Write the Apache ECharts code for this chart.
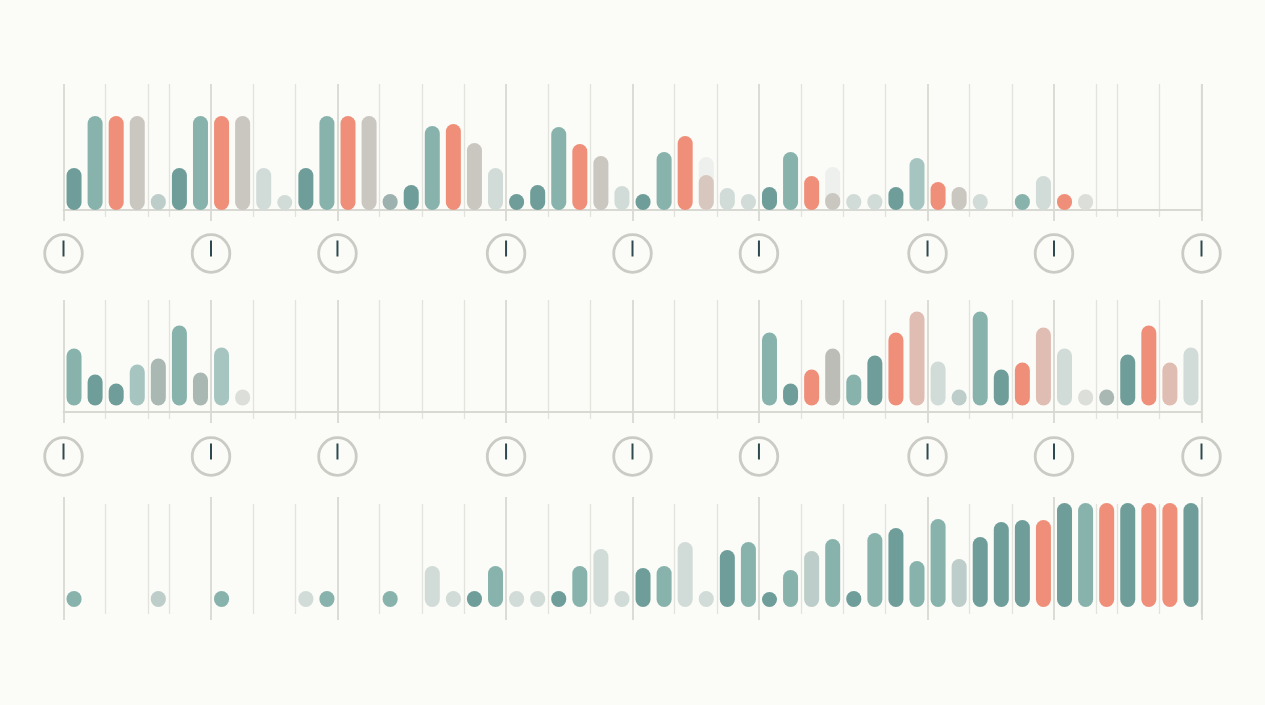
<!DOCTYPE html>
<html>
<head>
<meta charset="utf-8">
<style>html,body{margin:0;padding:0;background:#fbfbf7}#c{width:1265px;height:705px}</style>
<script src="https://cdn.jsdelivr.net/npm/echarts@6/dist/echarts.min.js"></script>
</head>
<body>
<div id="c"></div>
<script>
const slots = Array.from({length: 54}, (_, i) => 'S' + i);
const majorTicks = [0, 7, 13, 21, 27, 33, 41, 47];
const clockTicks = [0, 7, 13, 21, 27, 33, 41, 47, 54];
const minorTicks = [2, 4, 5, 9, 11, 15, 17, 19, 23, 25, 29, 31, 35, 37, 39, 43, 45, 49, 50, 52];

const topValues = [42,94,94,94,16, 42,94,94,94,42, 15,42,94,94,94, 16,25,84,86,67, 42,16,25,83,66, 54,24,16,58,74, 35,22,16,23,58, 34,17,16,16,23, 52,28,23,16,null, 16,34,16,16,null, null,null,null,null];
const topGhost = [null,null,null,null,null, null,null,null,null,null, null,null,null,null,null, null,null,null,null,null, null,null,null,null,null, null,null,null,null,null, 53,null,null,null,null, null,43,null,null,null, null,null,null,null,null, null,null,null,null,null, null,null,null,null];
const topKinds = ['deep','teal','coral','stone','fog', 'deep','teal','coral','stone','mist', 'mist','deep','teal','coral','stone', 'slate','deep','teal','coral','stone', 'mist','deep','deep','teal','coral', 'stone','mist','deep','teal','coral', 'sand','mist','mist','deep','teal', 'coral','stone','mist','mist','deep', 'seafoam','coral','stone','mist','mist', 'teal','mist','coral','pale','pale', 'pale','pale','pale','pale'];

const midValues = [57,31,22,41,47, 80,33,58,16,null, null,null,null,null,null, null,null,null,null,null, null,null,null,null,null, null,null,null,null,null, null,null,null,73,22, 36,57,31,50,73, 94,44,16,94,36, 43,78,57,16,16, 51,80,43,58];
const midKinds = ['teal','deep','deep','seafoam','ash', 'teal','ash','seafoam','pale','pale', 'pale','pale','pale','pale','pale', 'pale','pale','pale','pale','pale', 'pale','pale','pale','pale','pale', 'pale','pale','pale','pale','pale', 'pale','pale','pale','teal','deep', 'coral','pewter','teal','deep','coral', 'blush','mist','fog','teal','deep', 'coral','blush','mist','pale','ash', 'deep','coral','blush','mist'];

const lowValues = [16,null,null,null,16, null,null,16,null,null, null,16,16,null,null, 16,null,41,16,16, 41,16,16,16,41, 58,16,39,41,65, 16,57,65,15,37, 56,68,16,74,79, 46,88,48,70,85, 87,87,104,104,104, 104,104,104,104];
const lowKinds = ['teal','teal','teal','teal','fog', 'teal','teal','teal','teal','teal', 'teal','mist','teal','teal','teal', 'teal','teal','mist','mist','deep', 'teal','mist','mist','deep','teal', 'mist','mist','deep','teal','mist', 'mist','deep','teal','deep','teal', 'fog','teal','deep','teal','deep', 'teal','teal','fog','deep','deep', 'deep','coral','deep','teal','coral', 'deep','coral','coral','deep'];

const palette = {deep:'#6f9e9a', teal:'#88b3ac', coral:'#f08f79', stone:'#cac6c0', mist:'#d1dcd8', fog:'#bdcdca', slate:'#9db1af', blush:'#dfbdb3', ash:'#aab8b4', pale:'#dcdeda', seafoam:'#a6c5c0', sand:'#d8c7bf', pewter:'#bdbdb8', ghost:'#edf0ed'};
const BG = '#fbfbf7', RULE_MINOR = '#e3e3de', RULE_MAJOR = '#d6d6d1', BASE = '#d9d9d4', HAND = '#2e4a4e', RING = '#cbcbc6';
const LEFT = 63.5, WIDTH = 1138;

const grids = [], xAxes = [], yAxes = [], series = [];
function addGrid(top, height, xa, ya) {
  const i = grids.length;
  grids.push({left: LEFT, width: WIDTH, top: top, height: height, containLabel: false});
  xAxes.push(Object.assign({gridIndex: i, axisLabel: {show: false}, axisTick: {show: false}, axisLine: {show: false}, splitLine: {show: false}}, xa));
  yAxes.push(Object.assign({gridIndex: i, type: 'value', show: false, min: 0, max: 1, splitLine: {show: false}}, ya));
  return i;
}
function addRules(top, bottom, ticks, color, width) {
  const set = new Set(ticks);
  addGrid(top, bottom - top, {type: 'category', data: slots, splitLine: {show: true, interval: (idx) => set.has(idx), lineStyle: {color: color, width: width}}}, {});
}
function addBars(top, height, yMin, yMax, values, kinds, baseline, ghost) {
  const i = addGrid(top, height, {
    type: 'category', data: slots,
    axisLine: {show: baseline, onZero: false, lineStyle: {color: BASE, width: 2}}
  }, {min: yMin, max: yMax});
  const common = {type: 'bar', xAxisIndex: i, yAxisIndex: i, barWidth: 15, barGap: '-100%', silent: true};
  if (ghost) series.push(Object.assign({}, common, {data: ghost, z: 2, itemStyle: {color: palette.ghost, borderRadius: 7.5}}));
  series.push(Object.assign({}, common, {data: values, z: 3, itemStyle: {borderRadius: 7.5, color: (p) => palette[kinds[p.dataIndex]]}}));
}
function addClocks(cy) {
  const i = addGrid(cy - 1, 2, {type: 'value', min: 0, max: 54}, {});
  series.push({
    type: 'custom', xAxisIndex: i, yAxisIndex: i, silent: true, clip: false, z: 4,
    data: clockTicks.map(t => [t, 0.5]),
    renderItem: (params, api) => {
      const c = api.coord([api.value(0), api.value(1)]);
      return {type: 'group', children: [
        {type: 'circle', shape: {cx: c[0], cy: c[1], r: 18.8}, style: {fill: BG, stroke: RING, lineWidth: 2.8}},
        {type: 'line', shape: {x1: c[0], y1: c[1] - 13, x2: c[0], y2: c[1] + 3}, style: {stroke: HAND, lineWidth: 2}}
      ]};
    }
  });
}

// top panel
addRules(84, 217, minorTicks, RULE_MINOR, 1.3);
addRules(84, 221, majorTicks, RULE_MAJOR, 1.7);
addBars(84, 126, 0, 126, topValues, topKinds, true, topGhost);
addClocks(253.5);
// middle panel
addRules(300, 419, minorTicks, RULE_MINOR, 1.3);
addRules(300, 423, majorTicks, RULE_MAJOR, 1.7);
addBars(300, 111.5, -6, 105.5, midValues, midKinds, true);
addClocks(456.5);
// bottom panel
addRules(504, 614, minorTicks, RULE_MINOR, 1.3);
addRules(497, 620, majorTicks, RULE_MAJOR, 1.7);
addBars(503, 104, 0, 104, lowValues, lowKinds, false);

const chart = echarts.init(document.getElementById('c'), null, {renderer: 'canvas'});
chart.setOption({backgroundColor: BG, animation: false, tooltip: {show: false}, grid: grids, xAxis: xAxes, yAxis: yAxes, series: series});
</script>
</body>
</html>
